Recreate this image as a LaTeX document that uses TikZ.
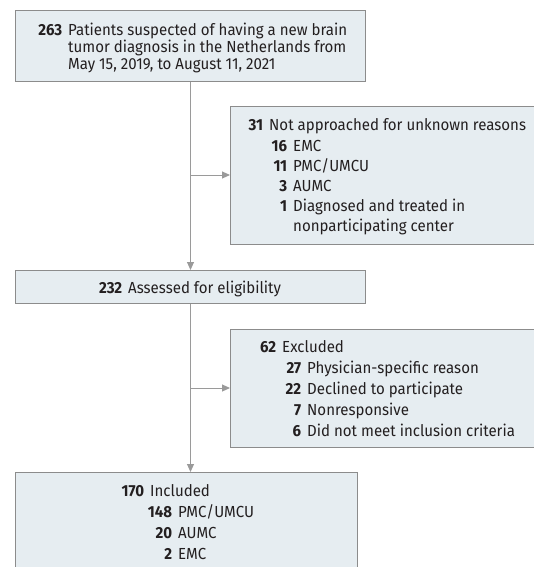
\documentclass[tikz,border=0pt]{standalone}
\usepackage{fontspec}
\setmainfont{Fira Sans}[FakeStretch=0.94]
\usetikzlibrary{arrows.meta}
\definecolor{boxfill}{HTML}{E6EDF1}
\definecolor{boxline}{HTML}{8C8C8C}
\definecolor{arrowline}{HTML}{9A9A9A}
\definecolor{txtcol}{HTML}{231F20}
\newcommand{\numlbl}[1]{\llap{\bfseries #1\hspace{6pt}}}
\begin{document}
\begin{tikzpicture}[x=1pt,y=-1pt,
  flowbox/.style={rectangle, draw=boxline, fill=boxfill, line width=1pt, inner sep=0pt, anchor=north west},
  lbl/.style={anchor=base west, inner sep=0pt, text=txtcol, font=\fontsize{16}{18}\selectfont},
  conn/.style={draw=arrowline, line width=1pt, -{Triangle[length=8pt,width=7pt]}}]
\useasboundingbox (0,0) rectangle (534,567);
\clip (0,0) rectangle (534,567);
% boxes
\node[flowbox, minimum width=350pt, minimum height=71pt] (b1) at (15,10) {};
\node[flowbox, minimum width=310pt, minimum height=138pt] (b2) at (230,106) {};
\node[flowbox, minimum width=350pt, minimum height=33pt] (b3) at (15,270) {};
\node[flowbox, minimum width=310pt, minimum height=118pt] (b4) at (230,329) {};
\node[flowbox, minimum width=342pt, minimum height=110pt] (b5) at (15,472) {};
% connectors
\coordinate (j1) at (190,175);
\coordinate (j2) at (190,388);
\draw[conn] (b1.south) -- (b3.north);
\draw[conn] (j1) -- (b2.west |- j1);
\draw[conn] (b3.south) -- (b5.north -| b3.south);
\draw[conn] (j2) -- (b4.west |- j2);
% box 1 text
\node[lbl] (t11) at (68,36) {\numlbl{263}Patients suspected of having a new brain};
\node[lbl] (t12) at (68,53) {tumor diagnosis in the Netherlands from};
\node[lbl] (t13) at (68,70) {May 15, 2019, to August 11, 2021};
% box 2 text
\node[lbl] (t21) at (269,131) {\numlbl{31}Not approached for unknown reasons};
\node[lbl] (t22) at (293,151) {\numlbl{16}EMC};
\node[lbl] (t23) at (293,171) {\numlbl{11}PMC/UMCU};
\node[lbl] (t24) at (293,191) {\numlbl{3}AUMC};
\node[lbl] (t25) at (293,211) {\numlbl{1}Diagnosed and treated in};
\node[lbl] (t26) at (293,231) {nonparticipating center};
% box 3 text
\node[lbl, anchor=base] (t31) at (190,293) {\textbf{232}\hspace{6pt}Assessed for eligibility};
% box 4 text
\node[lbl] (t41) at (282,352) {\numlbl{62}Excluded};
\node[lbl] (t42) at (307,373) {\numlbl{27}Physician-specific reason};
\node[lbl] (t43) at (307,394) {\numlbl{22}Declined to participate};
\node[lbl] (t44) at (307,415) {\numlbl{7}Nonresponsive};
\node[lbl] (t45) at (307,436) {\numlbl{6}Did not meet inclusion criteria};
% box 5 text
\node[lbl] (t51) at (150,496) {\numlbl{170}Included};
\node[lbl] (t52) at (178,517) {\numlbl{148}PMC/UMCU};
\node[lbl] (t53) at (178,538) {\numlbl{20}AUMC};
\node[lbl] (t54) at (178,559) {\numlbl{2}EMC};
\end{tikzpicture}
\end{document}
